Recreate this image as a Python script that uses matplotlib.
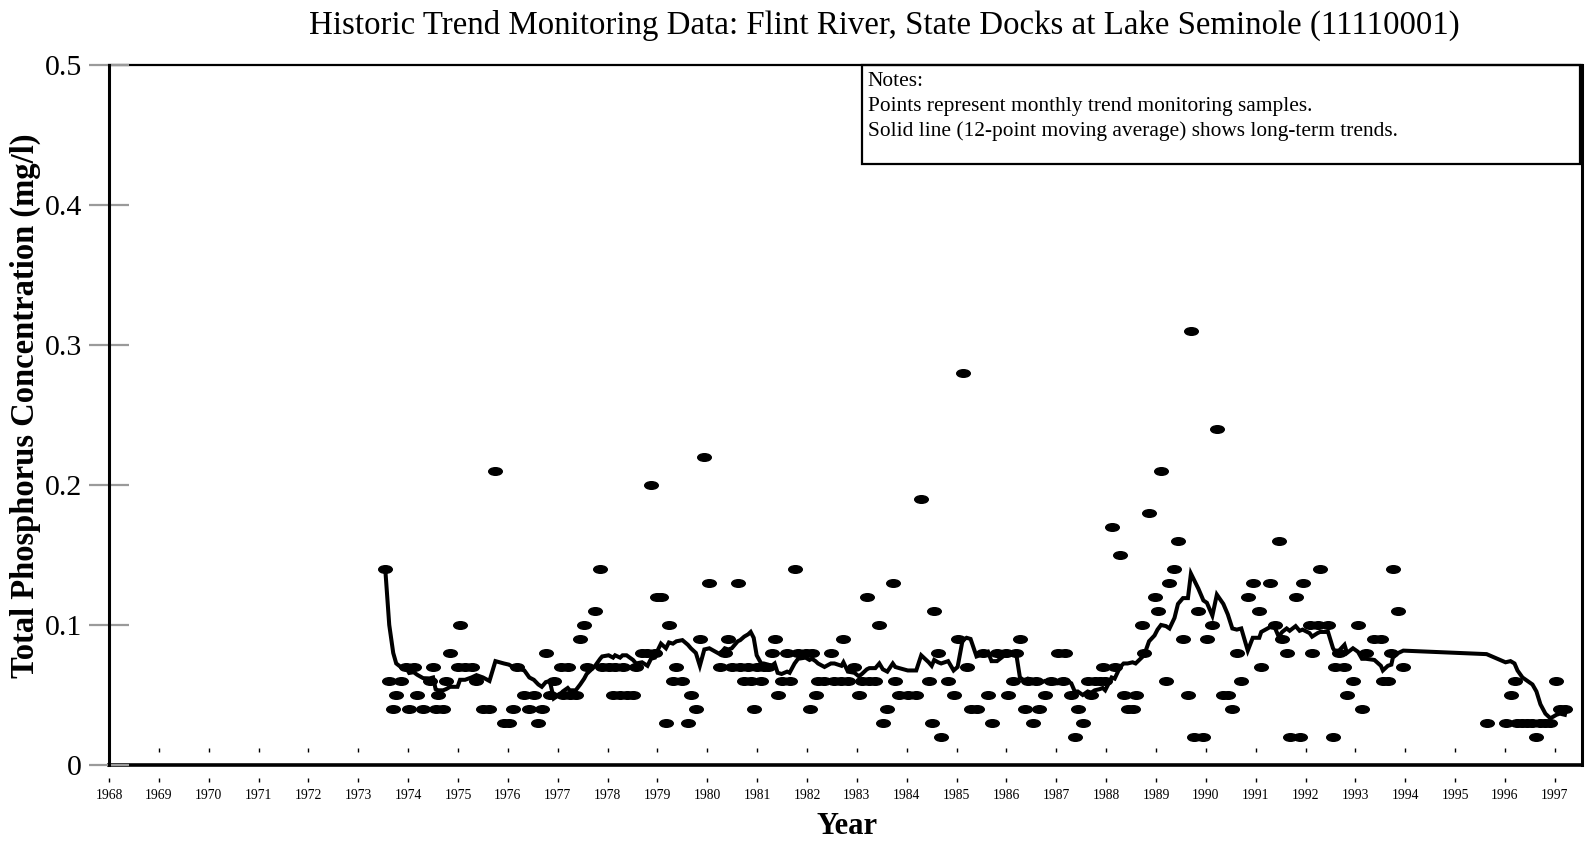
import matplotlib
matplotlib.use("Agg")
import matplotlib.pyplot as plt
import matplotlib.transforms as mtransforms
from matplotlib.path import Path
from matplotlib.patches import Rectangle
import numpy as np
import pandas as pd

# monthly trend samples, decimal year of sampling
sample_year = [
    1973.54, 1973.62, 1973.70, 1973.76, 1973.85, 1973.95, 1974.02, 1974.11, 1974.18, 1974.30,
    1974.43, 1974.50, 1974.55, 1974.60, 1974.70, 1974.76, 1974.84, 1974.99, 1975.04, 1975.14,
    1975.27, 1975.37, 1975.50, 1975.63, 1975.75, 1975.92, 1976.02, 1976.10, 1976.18, 1976.33,
    1976.43, 1976.52, 1976.61, 1976.68, 1976.76, 1976.84, 1976.92, 1977.06, 1977.10, 1977.20,
    1977.24, 1977.36, 1977.45, 1977.53, 1977.58, 1977.75, 1977.85, 1977.89, 1978.02, 1978.11,
    1978.15, 1978.25, 1978.30, 1978.38, 1978.51, 1978.57, 1978.69, 1978.80, 1978.87, 1978.95,
    1978.99, 1979.07, 1979.17, 1979.23, 1979.31, 1979.38, 1979.50, 1979.61, 1979.67, 1979.77,
    1979.85, 1979.94, 1980.04, 1980.25, 1980.35, 1980.42, 1980.49, 1980.61, 1980.66, 1980.74,
    1980.82, 1980.87, 1980.93, 1980.99, 1981.08, 1981.13, 1981.22, 1981.29, 1981.35, 1981.41,
    1981.49, 1981.60, 1981.65, 1981.75, 1981.82, 1981.97, 1982.05, 1982.10, 1982.17, 1982.22,
    1982.35, 1982.48, 1982.55, 1982.69, 1982.73, 1982.82, 1982.95, 1983.04, 1983.10, 1983.20,
    1983.25, 1983.37, 1983.45, 1983.52, 1983.61, 1983.72, 1983.77, 1983.85, 1984.02, 1984.19,
    1984.29, 1984.44, 1984.50, 1984.55, 1984.63, 1984.69, 1984.83, 1984.94, 1985.02, 1985.12,
    1985.20, 1985.28, 1985.40, 1985.53, 1985.63, 1985.70, 1985.81, 1985.99, 1986.04, 1986.13,
    1986.20, 1986.27, 1986.37, 1986.43, 1986.53, 1986.60, 1986.66, 1986.77, 1986.90, 1987.03,
    1987.13, 1987.18, 1987.30, 1987.37, 1987.43, 1987.53, 1987.63, 1987.70, 1987.77, 1987.87,
    1987.93, 1987.98, 1988.11, 1988.17, 1988.28, 1988.35, 1988.43, 1988.53, 1988.59, 1988.71,
    1988.76, 1988.86, 1988.97, 1989.03, 1989.10, 1989.20, 1989.27, 1989.37, 1989.44, 1989.54,
    1989.64, 1989.70, 1989.77, 1989.85, 1989.95, 1990.02, 1990.13, 1990.22, 1990.35, 1990.44,
    1990.53, 1990.62, 1990.71, 1990.84, 1990.94, 1991.07, 1991.11, 1991.28, 1991.38, 1991.46,
    1991.53, 1991.62, 1991.68, 1991.80, 1991.88, 1991.94, 1992.08, 1992.13, 1992.24, 1992.29,
    1992.45, 1992.55, 1992.58, 1992.67, 1992.78, 1992.83, 1992.95, 1993.05, 1993.13, 1993.21,
    1993.38, 1993.51, 1993.55, 1993.65, 1993.72, 1993.75, 1993.86, 1993.96, 1995.63, 1996.01,
    1996.11, 1996.19, 1996.25, 1996.35, 1996.45, 1996.55, 1996.63, 1996.71, 1996.81, 1996.91,
    1997.03, 1997.10, 1997.20,
]

# total phosphorus, mg/l
tp_mgl = [
    0.14, 0.06, 0.04, 0.05, 0.06, 0.07, 0.04, 0.07, 0.05, 0.04,
    0.06, 0.07, 0.04, 0.05, 0.04, 0.06, 0.08, 0.07, 0.10, 0.07,
    0.07, 0.06, 0.04, 0.04, 0.21, 0.03, 0.03, 0.04, 0.07, 0.05,
    0.04, 0.05, 0.03, 0.04, 0.08, 0.05, 0.06, 0.07, 0.05, 0.07,
    0.05, 0.05, 0.09, 0.10, 0.07, 0.11, 0.14, 0.07, 0.07, 0.05,
    0.07, 0.05, 0.07, 0.05, 0.05, 0.07, 0.08, 0.08, 0.20, 0.08,
    0.12, 0.12, 0.03, 0.10, 0.06, 0.07, 0.06, 0.03, 0.05, 0.04,
    0.09, 0.22, 0.13, 0.07, 0.08, 0.09, 0.07, 0.13, 0.07, 0.06,
    0.07, 0.06, 0.04, 0.07, 0.06, 0.07, 0.07, 0.08, 0.09, 0.05,
    0.06, 0.08, 0.06, 0.14, 0.08, 0.08, 0.04, 0.08, 0.05, 0.06,
    0.06, 0.08, 0.06, 0.06, 0.09, 0.06, 0.07, 0.05, 0.06, 0.12,
    0.06, 0.06, 0.10, 0.03, 0.04, 0.13, 0.06, 0.05, 0.05, 0.05,
    0.19, 0.06, 0.03, 0.11, 0.08, 0.02, 0.06, 0.05, 0.09, 0.28,
    0.07, 0.04, 0.04, 0.08, 0.05, 0.03, 0.08, 0.08, 0.05, 0.06,
    0.08, 0.09, 0.04, 0.06, 0.03, 0.06, 0.04, 0.05, 0.06, 0.08,
    0.06, 0.08, 0.05, 0.02, 0.04, 0.03, 0.06, 0.05, 0.06, 0.06,
    0.07, 0.06, 0.17, 0.07, 0.15, 0.05, 0.04, 0.04, 0.05, 0.10,
    0.08, 0.18, 0.12, 0.11, 0.21, 0.06, 0.13, 0.14, 0.16, 0.09,
    0.05, 0.31, 0.02, 0.11, 0.02, 0.09, 0.10, 0.24, 0.05, 0.05,
    0.04, 0.08, 0.06, 0.12, 0.13, 0.11, 0.07, 0.13, 0.10, 0.16,
    0.09, 0.08, 0.02, 0.12, 0.02, 0.13, 0.10, 0.08, 0.10, 0.14,
    0.10, 0.02, 0.07, 0.08, 0.07, 0.05, 0.06, 0.10, 0.04, 0.08,
    0.09, 0.09, 0.06, 0.06, 0.08, 0.14, 0.11, 0.07, 0.03, 0.03,
    0.05, 0.06, 0.03, 0.03, 0.03, 0.03, 0.02, 0.03, 0.03, 0.03,
    0.06, 0.04, 0.04,
]

years = list(range(1968, 1998))
y_ticks = [0, 0.1, 0.2, 0.3, 0.4, 0.5]
y_tick_labels = ["0", "0.1", "0.2", "0.3", "0.4", "0.5"]

title = "Historic Trend Monitoring Data: Flint River, State Docks at Lake Seminole (11110001)"
notes = [
    "Notes:",
    "Points represent monthly trend monitoring samples.",
    "Solid line (12-point moving average) shows long-term trends.",
]

plt.rcParams["font.family"] = ["Liberation Serif", "DejaVu Serif"]

df = pd.DataFrame({"year": sample_year, "tp": tp_mgl})
df["avg"] = df["tp"].rolling(12, min_periods=1).mean()

fig = plt.figure(figsize=(15.85, 8.44), dpi=100)
ax = fig.add_axes([0.0688, 0.0936, 0.9295, 0.8297])

# flattened ellipse for the sample markers
ellipse = Path.unit_circle().transformed(mtransforms.Affine2D().scale(1.0, 0.56))
ax.plot(df["year"], df["tp"], linestyle="none", marker=ellipse, markersize=9.8,
        color="black", zorder=3, clip_on=False)
ax.plot(df["year"], df["avg"], color="black", linewidth=2.9, zorder=4,
        solid_joinstyle="miter")

ax.set_xlim(1968, 1997.55)
ax.set_ylim(0, 0.5)

ax.set_xticks(years)
ax.set_xticklabels([str(y) for y in years], fontsize=9.8)
ax.tick_params(axis="x", length=0, pad=17)

ax.set_yticks(y_ticks)
ax.set_yticklabels(y_tick_labels, fontsize=21.5)
ax.tick_params(axis="y", direction="inout", length=29, width=1.6,
               color="#9a9a9a", pad=5)

for side in ["left", "right", "top", "bottom"]:
    ax.spines[side].set_color("black")
ax.spines["left"].set_linewidth(2.2)
ax.spines["bottom"].set_linewidth(2.6)
ax.spines["top"].set_linewidth(1.6)
ax.spines["right"].set_linewidth(2.2)
ax.spines["left"].set_zorder(5)
ax.spines["top"].set_zorder(1)
ax.spines["bottom"].set_zorder(1)

# small detached year marks above and below the x axis
for dy in (10.5 / 72, -11 / 72):
    off = mtransforms.ScaledTranslation(0, dy, fig.dpi_scale_trans)
    ax.plot(years, [0] * len(years), linestyle="none", marker="|", markersize=3.5,
            markeredgewidth=1.0, color="black", clip_on=False,
            transform=ax.transData + off)

# notes box in the upper right
ax.add_patch(Rectangle((0.511, 0.858), 0.4875, 0.142, transform=ax.transAxes,
                       fill=False, edgecolor="black", linewidth=1.6, zorder=6,
                       clip_on=False))
for i, line in enumerate(notes):
    ax.text(0.515, 0.976 - i * 0.0355, line, transform=ax.transAxes,
            fontsize=15.4, va="center", ha="left", zorder=7)

fig.text(884 / 1585, 1 - 25 / 844, title, ha="center", va="center", fontsize=23.7)
fig.text(25 / 1585, 0.519, "Total Phosphorus Concentration (mg/l)", rotation=90,
         ha="center", va="center", fontsize=23.5, fontweight="bold")
fig.text(847 / 1585, 1 - 827 / 844, "Year", ha="center", va="center",
         fontsize=22, fontweight="bold")

fig.savefig("out.png", dpi=100)
